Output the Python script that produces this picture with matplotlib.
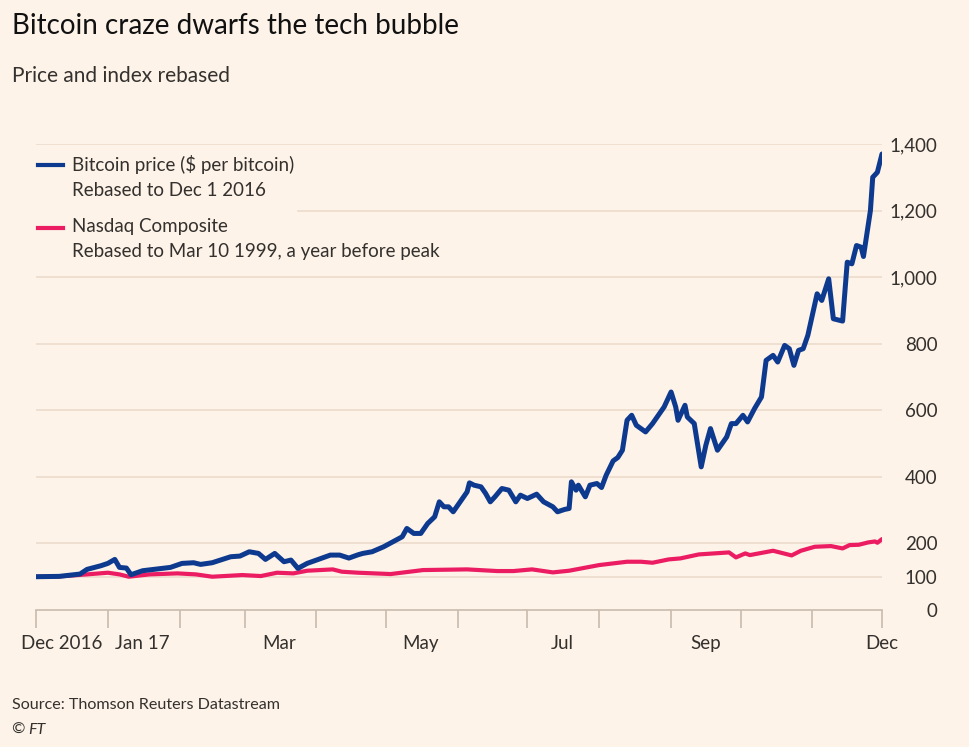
import pandas as pd
import matplotlib.pyplot as plt
import matplotlib.dates as mdates

# ================= DATA =================

start = pd.Timestamp("2016-12-01")

# days since Dec 1 2016 / rebased value
btc_days = [0, 10, 19, 22, 28, 31, 34, 36, 39, 41, 46, 58, 63, 68, 71, 76, 84, 88,
            92, 96, 99, 103, 107, 110, 113, 117, 123, 127, 131, 135, 139, 141, 145,
            150, 154, 158, 160, 163, 166, 169, 172, 174, 176, 178, 180, 183, 186,
            187, 189, 192, 194, 196, 198, 201, 204, 207, 209, 212, 216, 219, 223,
            225, 228, 230, 231, 233, 234, 237, 239, 242, 244, 246, 249, 251, 253,
            255, 257, 259, 263, 266, 268, 271, 274, 276, 277, 280, 281, 284, 287,
            289, 291, 294, 298, 300, 302, 305, 307, 310, 313, 315, 318, 320, 323,
            325, 327, 329, 331, 333, 337, 339, 342, 344, 348, 350, 352, 354, 356,
            357, 360, 361, 363, 365]
btc_values = [100, 101, 108, 122, 133, 140, 152, 128, 126, 106, 118, 128, 140, 142,
              137, 142, 160, 162, 175, 170, 152, 170, 145, 150, 125, 140, 155, 165,
              165, 156, 166, 170, 175, 190, 205, 220, 245, 230, 230, 260, 280, 325,
              310, 310, 295, 325, 355, 382, 375, 370, 350, 325, 340, 365, 360, 325,
              345, 335, 348, 325, 310, 295, 302, 305, 385, 360, 375, 340, 375, 380,
              368, 405, 448, 458, 480, 570, 585, 555, 535, 560, 580, 610, 655, 610,
              570, 615, 580, 560, 430, 495, 545, 480, 520, 560, 560, 585, 565, 605,
              640, 750, 765, 745, 795, 785, 735, 780, 785, 825, 950, 930, 995, 875,
              868, 1045, 1040, 1095, 1090, 1062, 1200, 1300, 1315, 1370]

ndq_days = [0, 10, 22, 31, 36, 40, 49, 61, 69, 76, 89, 97, 104, 111, 117, 128, 132,
            139, 153, 167, 186, 199, 206, 214, 223, 230, 243, 255, 261, 266, 273,
            278, 286, 299, 302, 306, 308, 318, 326, 330, 336, 343, 348, 351, 355,
            359, 362, 363, 365]
ndq_values = [100, 101, 107, 112, 107, 100, 107, 110, 107, 100, 105, 102, 112, 110,
              118, 122, 115, 112, 108, 120, 122, 117, 117, 122, 113, 118, 135, 145,
              145, 142, 152, 155, 167, 173, 158, 170, 165, 178, 164, 178, 190, 192,
              185, 195, 196, 203, 206, 202, 213]

y_ticks = [0, 100, 200, 400, 600, 800, 1000, 1200, 1400]
x_label_dates = ["2016-12-12", "2017-01-16", "2017-03-16", "2017-05-16",
                 "2017-07-16", "2017-09-16", "2017-12-01"]
x_label_text = ["Dec 2016", "Jan 17", "Mar", "May", "Jul", "Sep", "Dec"]

btc_dates = start + pd.to_timedelta(btc_days, unit="D")
ndq_dates = start + pd.to_timedelta(ndq_days, unit="D")

# ================= STYLE =================

BG = "#fdf3e8"
GRID = "#ecdccd"
TEXT = "#33302e"
BLUE = "#0d3a8f"
PINK = "#ec1c63"

plt.rcParams["font.family"] = ["Lato", "DejaVu Sans"]

fig = plt.figure(figsize=(9.7, 7.47), dpi=100, facecolor=BG)
ax = fig.add_axes([36 / 970, 1 - 610 / 747, 846 / 970, (610 - 144) / 747])
ax.set_facecolor(BG)

# ================= LINES =================

ax.plot(ndq_dates, ndq_values, color=PINK, lw=3, solid_capstyle="round",
        solid_joinstyle="round", zorder=3)
ax.plot(btc_dates, btc_values, color=BLUE, lw=3.6, solid_capstyle="round",
        solid_joinstyle="round", zorder=4)

# gridlines (the 1200 one starts after the legend text)
for t in y_ticks[1:]:
    xmin = 0.31 if t == 1200 else 0
    ax.axhline(t, xmin=xmin, color=GRID, lw=1.2, zorder=1)

ax.set_ylim(0, 1400)
ax.set_xlim(start, pd.Timestamp("2017-12-01"))

for s in ["top", "left", "right"]:
    ax.spines[s].set_visible(False)
ax.spines["bottom"].set_color("#c9bbad")
ax.spines["bottom"].set_linewidth(1.2)

# y axis on the right, labels right-aligned
ax.yaxis.tick_right()
ax.set_yticks(y_ticks)
ax.set_yticklabels([f"{t:,}" for t in y_ticks])
ax.tick_params(axis="y", length=0, pad=40, labelsize=13.5, labelcolor=TEXT)
for lab in ax.get_yticklabels():
    lab.set_horizontalalignment("right")

# month tick marks, labels between them
ax.xaxis.remove_overlapping_locs = False
ax.xaxis.set_major_locator(mdates.MonthLocator())
ax.xaxis.set_major_formatter(plt.NullFormatter())
ax.tick_params(axis="x", which="major", length=13, width=1.2, color="#c9bbad")
ax.set_xticks(pd.to_datetime(x_label_dates), minor=True)
ax.set_xticklabels(x_label_text, minor=True)
ax.tick_params(axis="x", which="minor", length=0, pad=18, labelsize=13.5,
               labelcolor=TEXT)

# ================= LEGEND =================

legend = [(165, BLUE, "Bitcoin price ($ per bitcoin)\nRebased to Dec 1 2016"),
          (228, PINK, "Nasdaq Composite\nRebased to Mar 10 1999, a year before peak")]
for y, c, txt in legend:
    fig.add_artist(plt.Line2D([38 / 970, 63 / 970], [1 - y / 747, 1 - y / 747],
                              color=c, lw=3))
    fig.text(72 / 970, 1 - (y - 10) / 747, txt, fontsize=13.5, color=TEXT,
             va="top", linespacing=1.6)

# ================= TITLES =================

fig.text(12 / 970, 1 - 26 / 747, "Bitcoin craze dwarfs the tech bubble",
         fontsize=20, color="#111111", va="center")
fig.text(12 / 970, 1 - 76 / 747, "Price and index rebased",
         fontsize=15, color=TEXT, va="center")
fig.text(12 / 970, 1 - 705 / 747, "Source: Thomson Reuters Datastream",
         fontsize=11.6, color=TEXT, va="center")
fig.text(11 / 970, 1 - 730 / 747, "©", fontsize=11.6, color=TEXT, va="center")
fig.text(28 / 970, 1 - 730 / 747, "FT", fontsize=11.6, color=TEXT, va="center",
         style="italic")

fig.savefig("out.png", dpi=100, facecolor=BG)
